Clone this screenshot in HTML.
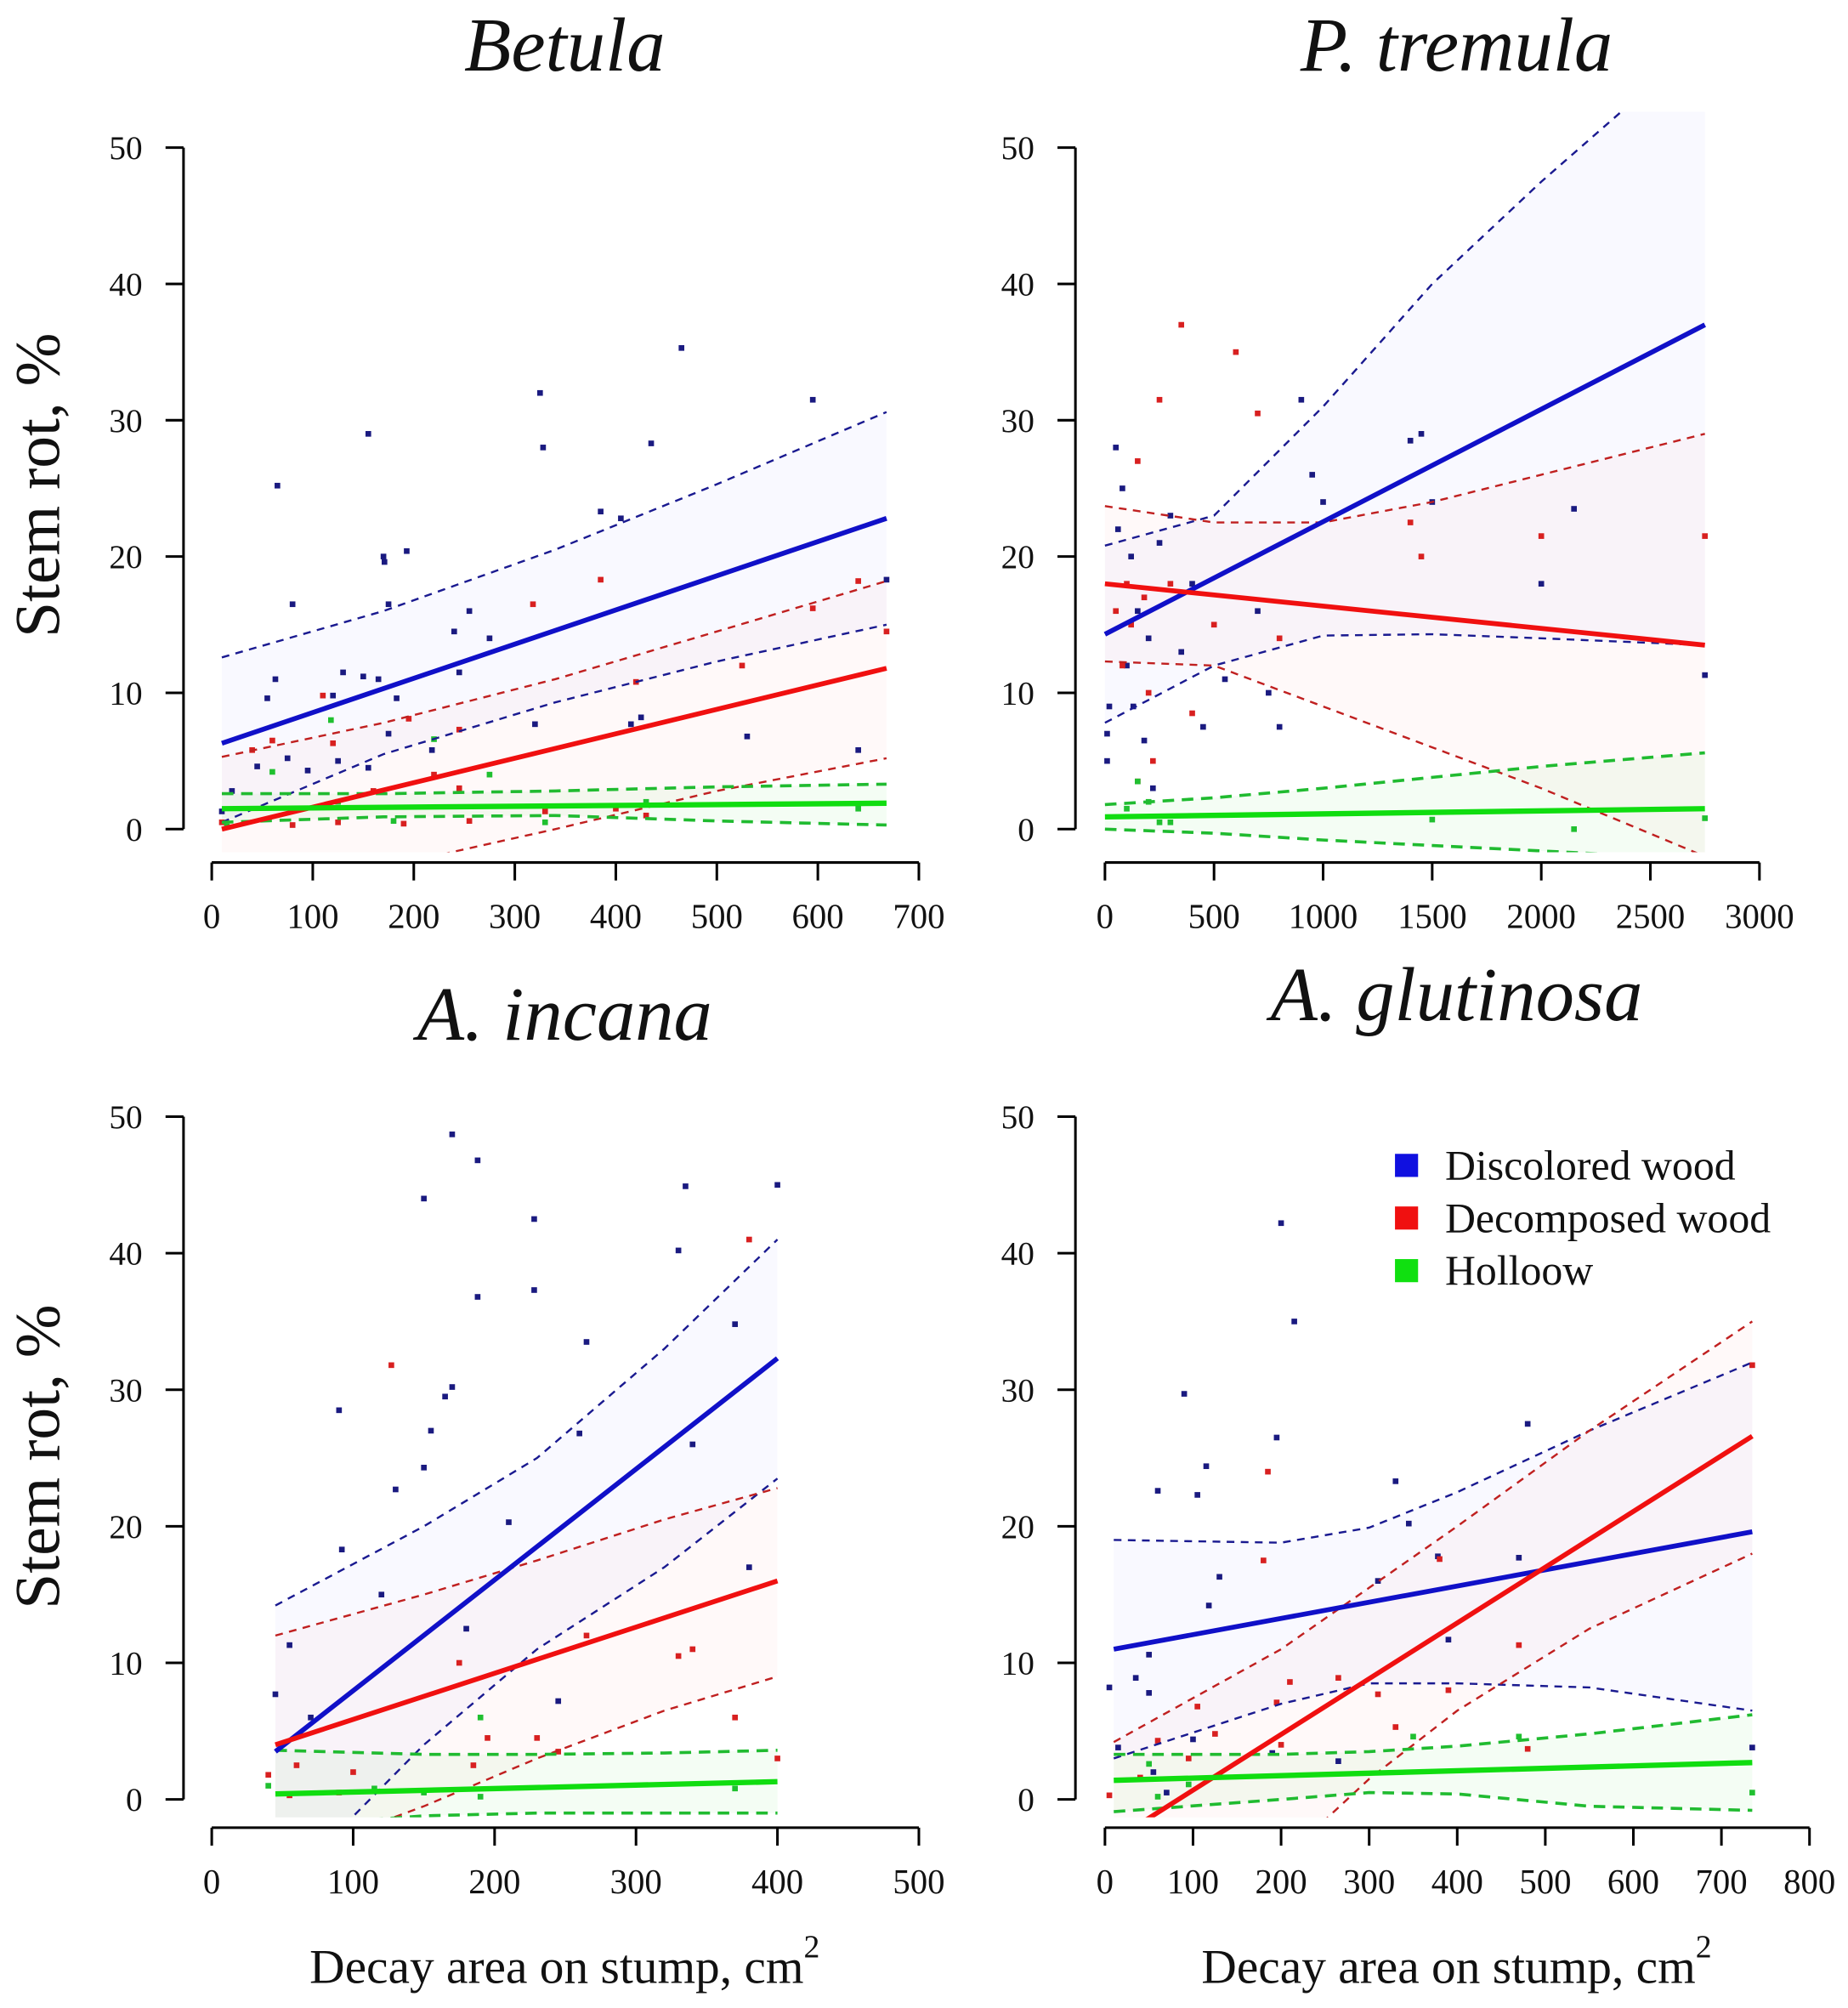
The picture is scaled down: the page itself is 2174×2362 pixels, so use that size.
<!DOCTYPE html>
<html><head><meta charset="utf-8"><style>
html,body{margin:0;padding:0;background:#fff}
svg{display:block}
text{font-family:"Liberation Serif",serif;fill:#111}
</style></head><body>
<svg id="fig" xmlns="http://www.w3.org/2000/svg" width="2174" height="2362" viewBox="0 0 1440 1564.5"></svg>
<script>
// ---------- Betula ----------
const betulaCiX = [10,170,340,500,668];
const betulaBlueFit = [6.3,22.8];
const betulaBlueUp = [12.6,16.0,20.5,25.3,30.6];
const betulaBlueLo = [0.5,5.5,9.3,12.3,15.0];
const betulaRedFit = [0.0,11.8];
const betulaRedUp = [5.3,7.8,11.0,14.5,18.2];
const betulaRedLo = [-5.5,-2.8,0.0,2.8,5.2];
const betulaGreenFit = [1.5,1.9];
const betulaGreenUp = [2.6,2.6,2.8,3.1,3.3];
const betulaGreenLo = [0.5,0.9,1.0,0.6,0.3];
const betulaBlueX = [65,155,170,171,193,80,175,63,55,130,150,165,183,240,255,275,325,328,385,405,435,465,595,120,125,75,95,45,20,10,245,175,218,320,415,425,530,640,668,155];
const betulaBlueY = [25.2,29,20,19.6,20.4,16.5,16.5,11,9.6,11.5,11.2,11,9.6,14.5,16,14,32,28,23.3,22.8,28.3,35.3,31.5,9.8,5,5.2,4.3,4.6,2.8,1.3,11.5,7,5.8,7.7,7.7,8.2,6.8,5.8,18.3,4.5];
const betulaRedX = [110,385,318,595,640,668,525,60,120,245,195,420,40,10,80,125,190,255,330,400,430,220,160,245];
const betulaRedY = [9.8,18.3,16.5,16.2,18.2,14.5,12,6.5,6.3,7.3,8.1,10.8,5.8,0.5,0.3,0.5,0.4,0.6,1.3,1.5,1,4,2.8,3];
const betulaGreenX = [60,118,220,275,125,180,330,640,15,430];
const betulaGreenY = [4.2,8,6.6,4,2,0.6,0.5,1.5,0.2,2];

// ---------- P. tremula ----------
const tremulaCiX = [0,500,1000,1500,2000,2750];
const tremulaBlueFit = [14.3,37.0];
const tremulaBlueUp = [20.8,23.0,31.0,40.0,47.5,58.0];
const tremulaBlueLo = [7.8,12.0,14.2,14.3,14.0,13.5];
const tremulaRedFit = [18.0,13.5];
const tremulaRedUp = [23.7,22.5,22.5,24.0,26.0,29.0];
const tremulaRedLo = [12.3,12.0,9.0,6.0,3.0,-2.0];
const tremulaGreenFit = [0.9,1.5];
const tremulaGreenUp = [1.8,2.3,3.0,3.8,4.6,5.6];
const tremulaGreenLo = [0.0,-0.3,-0.8,-1.2,-1.6,-2.2];
const tremulaBlueX = [50,80,60,120,20,10,10,150,200,250,300,400,350,450,550,700,750,800,900,950,1000,1400,1450,2000,2150,2750,100,180,220,130,1500];
const tremulaBlueY = [28,25,22,20,9,7,5,16,14,21,23,18,13,7.5,11,16,10,7.5,31.5,26,24,28.5,29,18,23.5,11.3,12,6.5,3,9,24];
const tremulaRedX = [350,600,250,700,150,100,120,180,300,800,1400,1450,2000,2750,200,400,150,220,80,50,500];
const tremulaRedY = [37,35,31.5,30.5,27,18,15,17,18,14,22.5,20,21.5,21.5,10,8.5,3.5,5,12,16,15];
const tremulaGreenX = [150,200,250,300,1500,2750,2150,100];
const tremulaGreenY = [3.5,2,0.5,0.5,0.7,0.8,0,1.5];

// ---------- A. incana ----------
const incanaCiX = [45,150,230,320,400];
const incanaBlueFit = [3.5,32.3];
const incanaBlueUp = [14.2,20.0,25.0,33.0,41.0];
const incanaBlueLo = [-7.0,4.0,11.0,17.0,23.5];
const incanaRedFit = [4.0,16.0];
const incanaRedUp = [12.0,15.0,17.5,20.5,22.8];
const incanaRedLo = [-4.5,-0.5,3.0,6.5,9.0];
const incanaGreenFit = [0.4,1.3];
const incanaGreenUp = [3.6,3.3,3.3,3.4,3.6];
const incanaGreenLo = [-2.0,-1.2,-1.0,-1.0,-1.0];
const incanaBlueX = [170,188,150,228,335,400,330,228,188,165,170,155,265,150,90,92,130,210,120,260,340,45,70,55,370,380,245,180];
const incanaBlueY = [48.7,46.8,44,42.5,44.9,45,40.2,37.3,36.8,29.5,30.2,27,33.5,24.3,28.5,18.3,22.7,20.3,15,26.8,26,7.7,6,11.3,34.8,17,7.2,12.5];
const incanaRedX = [127,380,330,340,370,265,175,185,90,55,40,100,230,245,400,195,60];
const incanaRedY = [31.8,41,10.5,11,6,12,10,2.5,0.5,0.3,1.8,2,4.5,3.5,3,4.5,2.5];
const incanaGreenX = [190,40,150,190,370,115];
const incanaGreenY = [6,1,0.5,0.2,0.8,0.8];

// ---------- A. glutinosa ----------
const glutCiX = [10,200,300,400,550,735];
const glutBlueFit = [11.0,19.6];
const glutBlueUp = [19.0,18.8,19.9,22.5,27.0,32.0];
const glutBlueLo = [3.0,7.0,8.5,8.5,8.2,6.5];
const glutRedFit = [-3.0,26.6];
const glutRedUp = [4.2,11.0,15.5,20.0,27.0,35.0];
const glutRedLo = [-10.0,-4.5,1.5,6.5,12.5,18.0];
const glutGreenFit = [1.4,2.7];
const glutGreenUp = [3.3,3.3,3.5,3.9,4.8,6.2];
const glutGreenLo = [-0.9,0.0,0.5,0.4,-0.5,-0.8];
const glutBlueX = [200,215,90,195,480,115,60,105,330,345,130,118,310,470,378,390,5,35,50,50,100,15,190,265,735,55,70];
const glutBlueY = [42.2,35,29.7,26.5,27.5,24.4,22.6,22.3,23.3,20.2,16.3,14.2,16,17.7,17.8,11.7,8.2,8.9,7.8,10.6,4.4,3.8,3.4,2.8,3.8,2,0.5];
const glutRedX = [185,180,735,470,380,210,265,310,390,105,125,195,200,330,480,5,40,60,95];
const glutRedY = [24,17.5,31.8,11.3,17.6,8.6,8.9,7.7,8,6.8,4.8,7.1,4,5.3,3.7,0.3,1.6,4.3,3];
const glutGreenX = [350,470,735,50,95,60];
const glutGreenY = [4.6,4.6,0.5,2.6,1.1,0.2];

const NS = 'http://www.w3.org/2000/svg';
const svg = document.getElementById('fig');
function mk(tag, attrs, parent){
  const e = document.createElementNS(NS, tag);
  for (const k in attrs) e.setAttribute(k, attrs[k]);
  (parent||svg).appendChild(e);
  return e;
}

const panels = [
  {key:'betula', title:'Betula', axX:143, y0:646, y50:115, xaxY:672, xmin:0, xmax:700, px0:165, px1:716, step:100, tcx:440, tcy:55,
   ciX:betulaCiX, fits:[betulaBlueFit,betulaRedFit,betulaGreenFit], ups:[betulaBlueUp,betulaRedUp,betulaGreenUp], los:[betulaBlueLo,betulaRedLo,betulaGreenLo],
   pts:[[betulaBlueX,betulaBlueY],[betulaRedX,betulaRedY],[betulaGreenX,betulaGreenY]]},
  {key:'p-tremula', title:'P. tremula', axX:838, y0:646, y50:115, xaxY:672, xmin:0, xmax:3000, px0:861, px1:1371, step:500, tcx:1135, tcy:55,
   ciX:tremulaCiX, fits:[tremulaBlueFit,tremulaRedFit,tremulaGreenFit], ups:[tremulaBlueUp,tremulaRedUp,tremulaGreenUp], los:[tremulaBlueLo,tremulaRedLo,tremulaGreenLo],
   pts:[[tremulaBlueX,tremulaBlueY],[tremulaRedX,tremulaRedY],[tremulaGreenX,tremulaGreenY]]},
  {key:'a-incana', title:'A. incana', axX:143, y0:1402, y50:870, xaxY:1424, xmin:0, xmax:500, px0:165, px1:716, step:100, tcx:440, tcy:810,
   ciX:incanaCiX, fits:[incanaBlueFit,incanaRedFit,incanaGreenFit], ups:[incanaBlueUp,incanaRedUp,incanaGreenUp], los:[incanaBlueLo,incanaRedLo,incanaGreenLo],
   pts:[[incanaBlueX,incanaBlueY],[incanaRedX,incanaRedY],[incanaGreenX,incanaGreenY]]},
  {key:'a-glutinosa', title:'A. glutinosa', axX:838, y0:1402, y50:870, xaxY:1424, xmin:0, xmax:800, px0:861, px1:1410, step:100, tcx:1135, tcy:795,
   ciX:glutCiX, fits:[glutBlueFit,glutRedFit,glutGreenFit], ups:[glutBlueUp,glutRedUp,glutGreenUp], los:[glutBlueLo,glutRedLo,glutGreenLo],
   pts:[[glutBlueX,glutBlueY],[glutRedX,glutRedY],[glutGreenX,glutGreenY]]}
];

const lineCol = ['#1010c8','#f01010','#10dd10'];
const dashCol = ['#1a1a90','#c02020','#20bb30'];
const ptCol = ['#1a1a80','#d82020','#20c030'];
const fillCol = ['rgba(120,120,255,0.045)','rgba(255,120,120,0.045)','rgba(100,230,100,0.07)'];
const seriesNames = ['discolored','decomposed','hollow'];

panels.forEach((p, pi) => {
  const g = mk('g', {});
  
  
  const sx = v => p.px0 + (v - p.xmin) / (p.xmax - p.xmin) * (p.px1 - p.px0);
  const sy = v => p.y0 - v / 50 * (p.y0 - p.y50);

  const clipId = 'clip' + pi;
  const cp = mk('clipPath', {id: clipId}, g);
  mk('rect', {x: p.axX + 2, y: p.y50 - 28, width: p.px1 - p.axX + 20, height: p.xaxY - p.y50 + 20}, cp);
  const plot = mk('g', {'clip-path': 'url(#' + clipId + ')'}, g);
  
  

  const x0 = p.ciX[0], x1 = p.ciX[p.ciX.length - 1];
  for (let s = 0; s < 3; s++) {
    let pts = p.ciX.map((x, i) => sx(x) + ',' + sy(p.ups[s][i]));
    pts = pts.concat(p.ciX.slice().reverse().map((x, i) => sx(x) + ',' + sy(p.los[s][p.ciX.length - 1 - i])));
    const band = mk('polygon', {points: pts.join(' '), fill: fillCol[s], stroke: 'none'}, plot);
    
    
  }
  for (let s = 0; s < 3; s++) {
    const xs = p.pts[s][0], ys = p.pts[s][1];
    xs.forEach((x, i) => {
      const r = mk('rect', {x: sx(x) - 2.2, y: sy(ys[i]) - 2.2, width: 4.4, height: 4.4, fill: ptCol[s]}, plot);
      
      
    });
  }
  for (let s = 0; s < 3; s++) {
    [p.ups[s], p.los[s]].forEach((arr, k) => {
      const d = p.ciX.map((x, i) => (i ? 'L' : 'M') + sx(x) + ' ' + sy(arr[i])).join(' ');
      const path = mk('path', {d: d, fill: 'none', stroke: dashCol[s], 'stroke-width': s === 2 ? 2.4 : 1.6, 'stroke-dasharray': s === 2 ? '9 6' : '6 5'}, plot);
      
      
    });
  }
  for (let s = 0; s < 3; s++) {
    const l = mk('line', {x1: sx(x0), y1: sy(p.fits[s][0]), x2: sx(x1), y2: sy(p.fits[s][1]), stroke: lineCol[s], 'stroke-width': s === 2 ? 4.2 : 3.8}, plot);
    
    
  }

  const ya = mk('g', {}, g);
  
  
  mk('line', {x1: p.axX, y1: p.y50, x2: p.axX, y2: p.y0, stroke: '#000', 'stroke-width': 2}, ya);
  for (let v = 0; v <= 50; v += 10) {
    mk('line', {x1: p.axX - 14, y1: sy(v), x2: p.axX, y2: sy(v), stroke: '#000', 'stroke-width': 2}, ya);
    const t = mk('text', {x: p.axX - 32, y: sy(v) + 9, 'text-anchor': 'end', 'font-size': 26}, ya);
    t.textContent = v;
    
    
  }
  const xa = mk('g', {}, g);
  
  
  mk('line', {x1: p.px0, y1: p.xaxY, x2: p.px1, y2: p.xaxY, stroke: '#000', 'stroke-width': 2}, xa);
  for (let v = p.xmin; v <= p.xmax; v += p.step) {
    mk('line', {x1: sx(v), y1: p.xaxY, x2: sx(v), y2: p.xaxY + 14, stroke: '#000', 'stroke-width': 2}, xa);
    const t = mk('text', {x: sx(v), y: p.xaxY + 51, 'text-anchor': 'middle', 'font-size': 27}, xa);
    t.textContent = v;
    
    
  }
  const tt = mk('text', {x: p.tcx, y: p.tcy, 'text-anchor': 'middle', 'font-size': 60, 'font-style': 'italic'}, g);
  tt.textContent = p.title;
  
  
});

[378, 1135].forEach(cy => {
  const t = mk('text', {x: 0, y: 0, transform: 'translate(46,' + cy + ') rotate(-90)', 'text-anchor': 'middle', 'font-size': 50});
  t.textContent = 'Stem rot, %';
  
  
});
[440, 1135].forEach(cx => {
  const t = mk('text', {x: cx, y: 1545, 'text-anchor': 'middle', 'font-size': 38});
  t.textContent = 'Decay area on stump, cm';
  const sup = mk('tspan', {dy: -20, 'font-size': 25}, t);
  sup.textContent = '2';
  
  
});

const legLabels = ['Discolored wood','Decomposed wood','Holloow'];
const legCols = ['#1010e0','#f01010','#10e010'];
const lg = mk('g', {});


legLabels.forEach((lab, i) => {
  const y = 908 + i * 41;
  mk('rect', {x: 1087, y: y - 9, width: 18, height: 18, fill: legCols[i]}, lg);
  const t = mk('text', {x: 1126, y: y + 11, 'font-size': 33}, lg);
  t.textContent = lab;
  
  
});
</script>
</body></html>
